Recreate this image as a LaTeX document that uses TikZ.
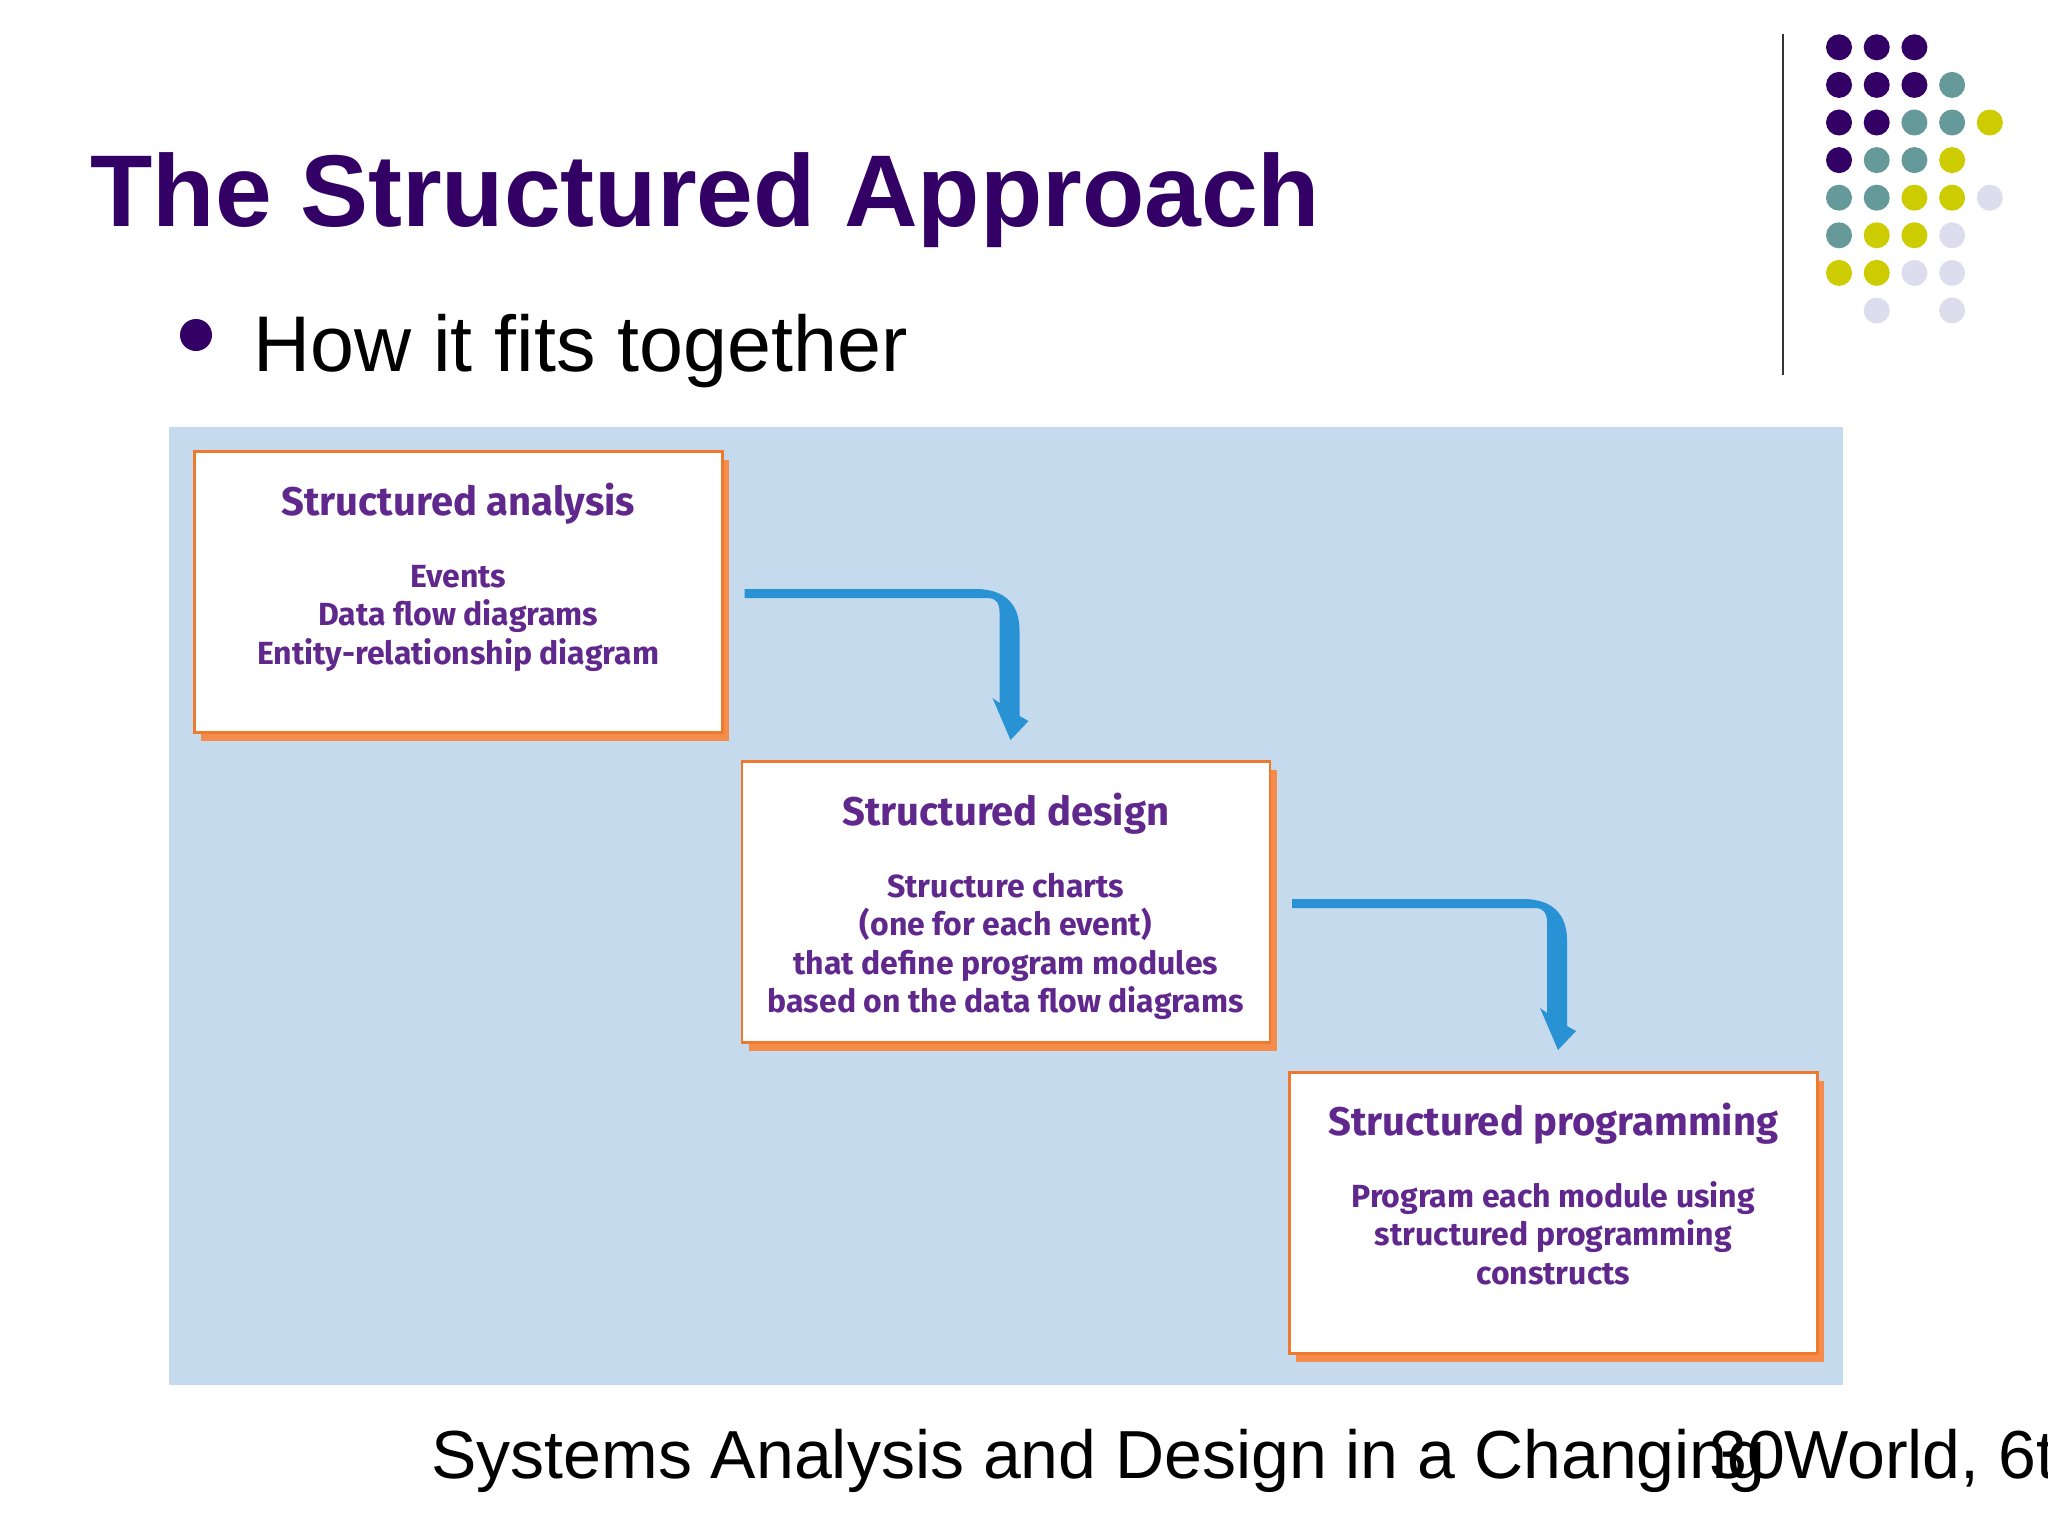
\documentclass[tikz,border=0pt]{standalone}
\usepackage{fontspec}
\setmainfont{Liberation Sans}
\newfontfamily\boxfont{Fira Sans}
\usetikzlibrary{shadows,calc}
\definecolor{titlepurple}{HTML}{330066}
\definecolor{dotteal}{HTML}{669999}
\definecolor{dotyellow}{HTML}{CCCC00}
\definecolor{dotlav}{HTML}{DDDDEE}
\definecolor{panelblue}{RGB}{198,218,238}
\definecolor{boxorange}{RGB}{238,122,48}
\definecolor{shadoworange}{RGB}{246,140,76}
\definecolor{textpurple}{RGB}{96,40,140}
\definecolor{arrowblue}{RGB}{40,146,212}
\begin{document}
\begin{tikzpicture}[x=0.5pt,y=-0.5pt,
  stagebox/.style={draw=boxorange, line width=1.25pt, fill=white,
    minimum width=264pt, minimum height=140.5pt, inner sep=0pt,
    general shadow={fill=shadoworange, shadow xshift=3.5pt, shadow yshift=-4.5pt}},
  boxtitle/.style={font=\boxfont\bfseries\fontsize{20pt}{24pt}\selectfont, text=textpurple, anchor=base, inner sep=0pt},
  boxbody/.style={font=\boxfont\bfseries\fontsize{16pt}{19pt}\selectfont, text=textpurple, anchor=base, inner sep=0pt},
  dotstyle/.style={circle, minimum size=13pt, inner sep=0pt},
  flowarrow/.style={fill=arrowblue}]
\useasboundingbox (0,0) rectangle (2048,1536);
\clip (0,0) rectangle (2048,1536);
\fill[white] (0,0) rectangle (2048,1536);

% title and bullet
\node[anchor=base west, inner sep=0pt, text=titlepurple, font=\bfseries\fontsize{51pt}{60pt}\selectfont] (title) at (90,226) {The Structured Approach};
\node[circle, fill=titlepurple, minimum size=16pt, inner sep=0pt] (bullet) at (196,335) {};
\node[anchor=base west, inner sep=0pt, font=\fontsize{39.5pt}{46pt}\selectfont] (sub) at (253,371) {How it fits together};

% side decoration
\draw[line width=1.3pt, black!80] (1783,34) coordinate (vtop) -- (1783,375) coordinate (vbot);
\foreach \c/\r/\col in {0/0/titlepurple,1/0/titlepurple,2/0/titlepurple,
  0/1/titlepurple,1/1/titlepurple,2/1/titlepurple,3/1/dotteal,
  0/2/titlepurple,1/2/titlepurple,2/2/dotteal,3/2/dotteal,4/2/dotyellow,
  0/3/titlepurple,1/3/dotteal,2/3/dotteal,3/3/dotyellow,
  0/4/dotteal,1/4/dotteal,2/4/dotyellow,3/4/dotyellow,4/4/dotlav,
  0/5/dotteal,1/5/dotyellow,2/5/dotyellow,3/5/dotlav,
  0/6/dotyellow,1/6/dotyellow,2/6/dotlav,3/6/dotlav,
  1/7/dotlav,3/7/dotlav}
  \node[dotstyle, fill=\col] (dot\c\r) at ({1839+37.7*\c},{47.3+37.6*\r}) {};

% panel
\fill[panelblue] (169,427) rectangle (1843,1385);

% boxes
\node[stagebox, anchor=north west] (b1) at (193,450) {};
\node[stagebox, anchor=north west] (b2) at (740.5,760) {};
\node[stagebox, anchor=north west] (b3) at (1288,1071) {};

\node[boxtitle] (b1t) at ($(b1.north)+(0,65)$) {Structured analysis};
\node[boxbody] (b1a) at ($(b1.north)+(0,137)$) {Events};
\node[boxbody] (b1b) at ($(b1.north)+(0,175.5)$) {Data flow diagrams};
\node[boxbody] (b1c) at ($(b1.north)+(0,214)$) {Entity-relationship diagram};

\node[boxtitle] (b2t) at ($(b2.north)+(0,65)$) {Structured design};
\node[boxbody] (b2a) at ($(b2.north)+(0,137)$) {Structure charts};
\node[boxbody] (b2b) at ($(b2.north)+(0,175.5)$) {(one for each event)};
\node[boxbody] (b2c) at ($(b2.north)+(0,214)$) {that define program modules};
\node[boxbody] (b2d) at ($(b2.north)+(0,252.5)$) {based on the data flow diagrams};

\node[boxtitle] (b3t) at ($(b3.north)+(0,64)$) {Structured programming};
\node[boxbody] (b3a) at ($(b3.north)+(0,136)$) {Program each module using};
\node[boxbody] (b3b) at ($(b3.north)+(0,174.5)$) {structured programming};
\node[boxbody] (b3c) at ($(b3.north)+(0,213)$) {constructs};

% arrows
\foreach \src in {b1,b2}{
  \begin{scope}[shift={(\src.north east)}]
    \fill[flowarrow] (21,139) -- (252,139) .. controls (282,139) and (296,155) .. (296,180)
      -- (296,266) -- (305,271) -- (287,290) -- (269,248) -- (276,253) -- (276,162)
      .. controls (276,153) and (272,148) .. (265,148) -- (21,148) -- cycle;
  \end{scope}
}

% footer
\node[anchor=base west, inner sep=0pt, font=\fontsize{34pt}{40pt}\selectfont] (foot) at (431,1478) {Systems Analysis and Design in a Changing World, 6th};
\node[anchor=base west, inner sep=0pt, font=\fontsize{34pt}{40pt}\selectfont] (pagenum) at (1709,1478) {30};
\end{tikzpicture}
\end{document}
